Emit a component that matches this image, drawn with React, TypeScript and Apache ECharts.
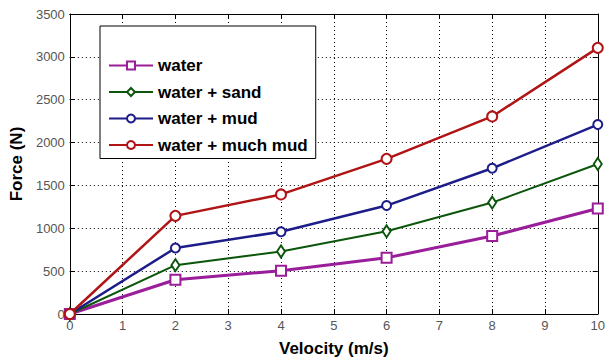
import React, { useEffect, useRef } from "react";
import * as echarts from "echarts";

const velocities = [0, 2, 4, 6, 8, 10];
const seriesNames = ["water", "water + sand", "water + mud", "water + much mud"];
const water = [0, 400, 505, 655, 910, 1230];
const waterSand = [0, 570, 730, 965, 1300, 1750];
const waterMud = [0, 770, 960, 1265, 1700, 2210];
const waterMuchMud = [0, 1145, 1395, 1810, 2305, 3105];

const colors = ["#9a1d9a", "#0c560c", "#1d1d8a", "#b01414"];
const symbols = ["rect", "diamond", "circle", "circle"];
const symbolSizes: any[] = [10, [8, 12], 9, 10];
const lineWidths = [3, 2, 2.5, 2.5];

export default function App() {
  const ref = useRef<HTMLDivElement>(null);
  useEffect(() => {
    if (!ref.current) return;
    const chart = echarts.init(ref.current, undefined, { renderer: "svg" });
    const all = [water, waterSand, waterMud, waterMuchMud];
    const font = "'Liberation Sans', Arial, sans-serif";
    const splitLine = { show: true, lineStyle: { color: "#000", type: [1, 3] as any, width: 1 } };
    chart.setOption({
      animation: false,
      backgroundColor: "#fff",
      grid: { left: 68, right: 5, top: 14, bottom: 46 },
      legend: {
        data: seriesNames,
        orient: "vertical",
        left: 100,
        top: 26,
        padding: [31, 8, 5, 8],
        itemGap: 9.5,
        itemWidth: 44,
        itemHeight: 10,
        borderColor: "#000",
        borderWidth: 1,
        backgroundColor: "#fff",
        textStyle: { fontFamily: font, fontSize: 17, fontWeight: "bold", color: "#000" },
      },
      xAxis: [
        {
          type: "value",
          min: 0,
          max: 10,
          interval: 1,
          name: "Velocity (m/s)",
          nameLocation: "middle",
          nameGap: 26,
          nameTextStyle: { fontFamily: font, fontSize: 17, fontWeight: "bold", color: "#000" },
          axisLine: { show: true, onZero: false, lineStyle: { color: "#000", width: 1 } },
          axisTick: { show: true, inside: true, length: 5, lineStyle: { color: "#000" } },
          axisLabel: { fontFamily: font, fontSize: 13, color: "#555", margin: 5 },
          splitLine,
        },
        {
          type: "value",
          position: "top",
          min: 0,
          max: 10,
          interval: 1,
          axisLine: { show: true, onZero: false, lineStyle: { color: "#000", width: 1 } },
          axisTick: { show: true, inside: true, length: 5, lineStyle: { color: "#000" } },
          axisLabel: { show: false },
          splitLine: { show: false },
        },
      ],
      yAxis: [
        {
          type: "value",
          min: 0,
          max: 3500,
          interval: 500,
          name: "Force (N)",
          nameLocation: "middle",
          nameGap: 41,
          nameTextStyle: { fontFamily: font, fontSize: 17, fontWeight: "bold", color: "#000" },
          axisLine: { show: true, onZero: false, lineStyle: { color: "#000", width: 1 } },
          axisTick: { show: true, inside: true, length: 5, lineStyle: { color: "#000" } },
          axisLabel: { fontFamily: font, fontSize: 13, color: "#555", margin: 5, formatter: (v: number) => String(v) },
          splitLine,
        },
        {
          type: "value",
          position: "right",
          min: 0,
          max: 3500,
          interval: 500,
          axisLine: { show: true, onZero: false, lineStyle: { color: "#000", width: 1 } },
          axisTick: { show: true, inside: true, length: 5, lineStyle: { color: "#000" } },
          axisLabel: { show: false },
          splitLine: { show: false },
        },
      ],
      series: all.map((vals, i) => ({
        name: seriesNames[i],
        type: "line",
        data: velocities.map((v, j) => [v, vals[j]]),
        symbol: symbols[i],
        symbolSize: symbolSizes[i],
        showSymbol: true,
        color: colors[i],
        lineStyle: { color: colors[i], width: lineWidths[i] },
        itemStyle: { color: "#fff", borderColor: colors[i], borderWidth: 2 },
        z: 2 + i,
      })),
    });
    return () => chart.dispose();
  }, []);
  return <div ref={ref} style={{ width: 608, height: 362, position: "absolute", left: 0, top: 0 }} />;
}
